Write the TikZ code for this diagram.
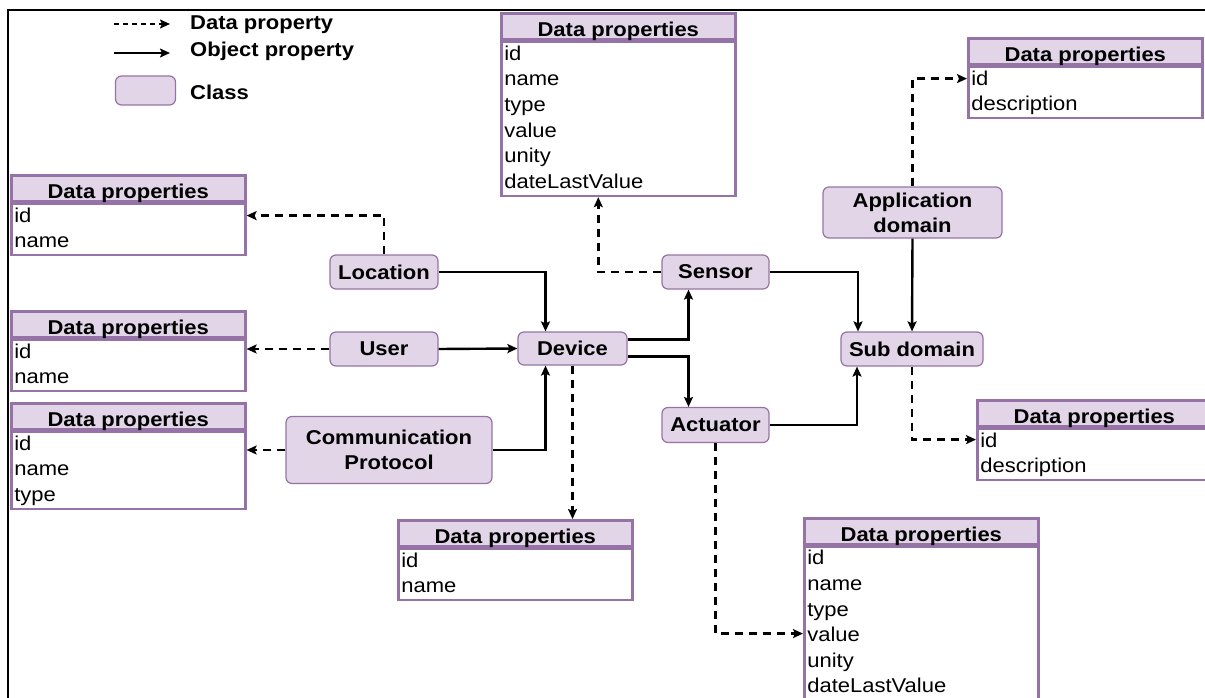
\documentclass[tikz,border=0pt]{standalone}
\usepackage{fontspec}
\setmainfont[FakeStretch=1.1]{Liberation Sans}
\usetikzlibrary{arrows.meta,positioning,calc}
\definecolor{clsfill}{HTML}{E1D5E7}
\definecolor{clsline}{HTML}{9673A6}
\tikzset{
  cls/.style={draw=clsline,fill=clsfill,line width=1.2pt,rounded corners=6pt,inner sep=0pt,align=center,font=\bfseries\fontsize{20}{25}\selectfont},
  dphead/.style={draw=clsline,fill=clsfill,line width=2.6pt,minimum width=234pt,minimum height=26pt,inner sep=0pt,text height=20pt,text depth=0pt,anchor=north west,font=\bfseries\fontsize{20}{25}\selectfont},
  dpbody/.style={draw=clsline,fill=white,line width=2.6pt,text width=228pt,inner xsep=3pt,inner ysep=0pt,align=left,anchor=north,font=\fontsize{20}{25.6}\selectfont,
    execute at begin node={\rule{0pt}{16pt}},execute at end node={\rule[-5pt]{0pt}{5pt}}},
  objarr/.style={line width=2.4pt,-{Stealth[length=10pt,width=9pt,inset=2pt]}},
  datarr/.style={objarr,dash pattern=on 8pt off 6pt},
  lgtext/.style={anchor=west,inner sep=0pt,font=\bfseries\fontsize{20}{25}\selectfont},
}

\begin{document}
\begin{tikzpicture}[x=1pt,y=-1pt]
  \clip (0,0) rectangle (1205,698);
  % ---------- frame ----------
  \draw[line width=2.5pt] (8,700) -- (8,10) -- (1207,10);
  % ---------- legend ----------
  \coordinate (lgd0) at (114,24);
  \coordinate (lgd1) at (170,24);
  \coordinate (lgo0) at (114,53);
  \coordinate (lgo1) at (170,53);
  \draw[datarr,line width=1.8pt,dash pattern=on 5pt off 4pt] (lgd0) -- (lgd1);
  \draw[objarr,line width=1.8pt] (lgo0) -- (lgo1);
  \node[lgtext] (lgdat) at (190,25) {Data property};
  \node[lgtext] (lgobj) at (190,51) {Object property};
  \node[cls,minimum width=60pt,minimum height=29pt] (lgcls) at (145.5,90.5) {};
  \node[lgtext] (lgclsl) at (190,92) {Class};

  % ---------- classes ----------
  \node[cls,minimum width=108pt,minimum height=34pt] (loc) at (384,272) {Location};
  \node[cls,minimum width=108pt,minimum height=34pt] (user) at (384,349) {User};
  \node[cls,minimum width=206pt,minimum height=67pt] (comm) at (389,450) {Communication\\Protocol};
  \node[cls,minimum width=109pt,minimum height=33pt] (dev) at (572.5,348.5) {Device};
  \node[cls,minimum width=107pt,minimum height=34pt] (sen) at (715.5,272) {Sensor};
  \node[cls,minimum width=107pt,minimum height=35pt] (act) at (715.5,425) {Actuator};
  \node[cls,minimum width=142pt,minimum height=34pt] (sub) at (912,349) {Sub domain};
  \node[cls,minimum width=179pt,minimum height=51pt] (app) at (912.5,212.5) {Application\\domain};

  % ---------- data properties ----------
  \node[dphead] (tsen) at (500,12) {Data properties};
  \node[dpbody,minimum height=154pt] (tsenb) at (tsen.south) {id\\name\\type\\value\\unity\\dateLastValue};
  \node[dphead] (tloc) at (10,174) {Data properties};
  \node[dpbody,minimum height=51pt] (tlocb) at (tloc.south) {id\\name};
  \node[dphead] (tuser) at (10,310) {Data properties};
  \node[dpbody,minimum height=51pt] (tuserb) at (tuser.south) {id\\name};
  \node[dphead] (tcomm) at (10,402) {Data properties};
  \node[dpbody,minimum height=77pt] (tcommb) at (tcomm.south) {id\\name\\type};
  \node[dphead] (tdev) at (397,519) {Data properties};
  \node[dpbody,minimum height=51pt] (tdevb) at (tdev.south) {id\\name};
  \node[dphead] (tapp) at (967,37) {Data properties};
  \node[dpbody,minimum height=51pt] (tappb) at (tapp.south) {id\\description};
  \node[dphead] (tsub) at (976,399) {Data properties};
  \node[dpbody,minimum height=51pt] (tsubb) at (tsub.south) {id\\description};
  \node[dphead] (tact) at (803,517) {Data properties};
  \node[dpbody,minimum height=153pt] (tactb) at (tact.south) {id\\name\\type\\value\\unity\\dateLastValue};

  % ---------- object properties ----------
  \draw[objarr] (loc.east) -| ([xshift=-27pt]dev.north);
  \draw[objarr] (user.east) -- (dev.west);
  \draw[objarr] (comm.east) -| ([xshift=-27pt]dev.south);
  \draw[objarr] ([yshift=9pt]dev.east) -| ([xshift=-27pt]sen.south);
  \draw[objarr] ([yshift=-8pt]dev.east) -| ([xshift=-27pt]act.north);
  \draw[objarr] (sen.east) -| ([xshift=-54pt]sub.north);
  \draw[objarr] (act.east) -| ([xshift=-55pt]sub.south);
  \draw[objarr] (app.south) -- (sub.north);

  % ---------- data property links ----------
  \draw[datarr] (loc.north) |- ([yshift=-13pt]tlocb.north east);
  \draw[datarr] (user.west) -- (user.west -| tuserb.east);
  \draw[datarr] (comm.west) -- (comm.west -| tcommb.east);
  \draw[datarr] (sen.west) -| ([xshift=-20pt]tsenb.south);
  \draw[datarr] (dev.south) -- (dev.south |- tdev.north);
  \draw[datarr] (app.north) |- ([yshift=-13pt]tappb.north west);
  \draw[datarr] (sub.south) |- ([yshift=-12pt]tsubb.north west);
  \draw[datarr] (act.south) |- ([yshift=-88pt]tactb.north west);
\end{tikzpicture}
\end{document}
